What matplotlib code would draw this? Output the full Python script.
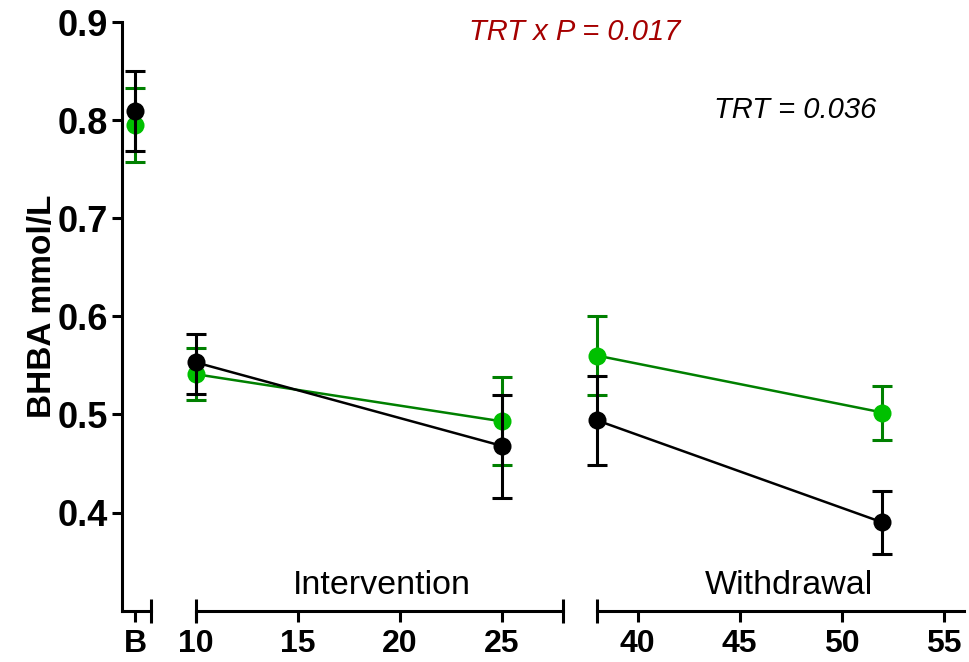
import numpy as np
import matplotlib
matplotlib.use('Agg')
import matplotlib.pyplot as plt
import matplotlib.transforms as mtransforms

plt.rcParams['font.family'] = ['Liberation Sans', 'DejaVu Sans']

# baseline (B)
base_black = 0.809
base_black_err = (0.040, 0.041)   # (lower, upper)
base_green = 0.795
base_green_err = (0.038, 0.038)

# intervention days
int_days = [10, 25]
int_black = [0.553, 0.468]
int_black_lo = [0.521, 0.415]
int_black_hi = [0.582, 0.520]
int_green = [0.541, 0.493]
int_green_lo = [0.515, 0.448]
int_green_hi = [0.568, 0.538]

# withdrawal days
wd_days = [38, 52]
wd_black = [0.494, 0.390]
wd_black_lo = [0.448, 0.358]
wd_black_hi = [0.539, 0.422]
wd_green = [0.560, 0.502]
wd_green_lo = [0.520, 0.474]
wd_green_hi = [0.600, 0.529]

y_ticks = [0.4, 0.5, 0.6, 0.7, 0.8, 0.9]
int_ticks = [10, 15, 20, 25]
wd_ticks = [40, 45, 50, 55]

GREEN_M = '#00c000'
GREEN_L = '#008000'
RED_T = '#a50000'

W, H = 969, 662
fig = plt.figure(figsize=(W / 100, H / 100), dpi=100)

bot = 1 - 610.7 / H
top = 1 - 22 / H
ax0 = fig.add_axes([122 / W, bot, 29 / W, top - bot])
ax1 = fig.add_axes([196 / W, bot, 367 / W, top - bot])
ax2 = fig.add_axes([597 / W, bot, 367 / W, top - bot])

ms = 13
ekw = dict(elinewidth=2.2, capsize=7, capthick=2.2)


def series(ax, x, y, lo, hi, mcol, lcol, z):
    y = np.array(y)
    err = np.array([y - np.array(lo), np.array(hi) - y])
    ax.errorbar(x, y, yerr=err, fmt='none', ecolor=lcol, zorder=z, clip_on=False, **ekw)
    ax.plot(x, y, '-', color=lcol, lw=1.8, zorder=z)
    ax.plot(x, y, 'o', color=mcol, ms=ms, mec='none', zorder=z + 0.5, clip_on=False)


# baseline
for val, err, mcol, lcol, z in [(base_green, base_green_err, GREEN_M, GREEN_L, 3),
                                (base_black, base_black_err, 'black', 'black', 5)]:
    ax0.errorbar([0], [val], yerr=[[err[0]], [err[1]]], fmt='none', ecolor=lcol,
                 zorder=z, clip_on=False, **ekw)
    ax0.plot([0], [val], 'o', color=mcol, ms=ms, mec='none', zorder=z + 0.5, clip_on=False)

series(ax1, int_days, int_green, int_green_lo, int_green_hi, GREEN_M, GREEN_L, 3)
series(ax1, int_days, int_black, int_black_lo, int_black_hi, 'black', 'black', 5)
series(ax2, wd_days, wd_green, wd_green_lo, wd_green_hi, GREEN_M, GREEN_L, 3)
series(ax2, wd_days, wd_black, wd_black_lo, wd_black_hi, 'black', 'black', 5)

ax0.set_xlim(-0.64, 0.78)
ax1.set_xlim(10, 28)
ax2.set_xlim(38, 56)

for ax in (ax0, ax1, ax2):
    ax.set_ylim(0.3, 0.9)
    ax.patch.set_alpha(0)
    for s in ('top', 'right'):
        ax.spines[s].set_visible(False)
    ax.spines['bottom'].set_linewidth(2.2)
    ax.tick_params(axis='x', length=8, width=2.2, labelsize=23, pad=5)

for ax in (ax1, ax2):
    ax.spines['left'].set_visible(False)
    ax.set_yticks([])

ax0.spines['left'].set_linewidth(2.2)
ax0.set_yticks(y_ticks)
ax0.set_yticklabels([f'{v:.1f}' for v in y_ticks], fontsize=26, fontweight='bold')
ax0.tick_params(axis='y', length=7, width=2.2, pad=3)
ax0.set_ylabel('BHBA mmol/L', fontsize=24, fontweight='bold')
ax0.yaxis.set_label_coords(-2.2, 0.517)

ax0.set_xticks([0])
ax0.set_xticklabels(['B'], fontsize=23, fontweight='bold')
ax1.set_xticks(int_ticks)
ax1.set_xticklabels([str(t) for t in int_ticks], fontsize=23, fontweight='bold')
ax2.set_xticks(wd_ticks)
ax2.set_xticklabels([str(t) for t in wd_ticks], fontsize=23, fontweight='bold')

# end bars of the broken x axis
for ax, xs in [(ax0, [0.78]), (ax1, [10, 28]), (ax2, [38])]:
    tr = mtransforms.blended_transform_factory(ax.transData, ax.transAxes)
    ax.plot(xs, [0] * len(xs), '|', color='black', ms=17, mew=2.2,
            transform=tr, clip_on=False, zorder=6)

fig.text(382 / W, 1 - 585 / H, 'Intervention', ha='center', va='center', fontsize=24.5)
fig.text(789 / W, 1 - 585 / H, 'Withdrawal', ha='center', va='center', fontsize=24.5)
fig.text(575 / W, 1 - 32 / H, 'TRT x P = 0.017', ha='center', va='center',
         fontsize=21, style='italic', color=RED_T)
fig.text(795 / W, 1 - 110 / H, 'TRT = 0.036', ha='center', va='center',
         fontsize=21, style='italic', color='black')

fig.savefig('out.png', dpi=100)
